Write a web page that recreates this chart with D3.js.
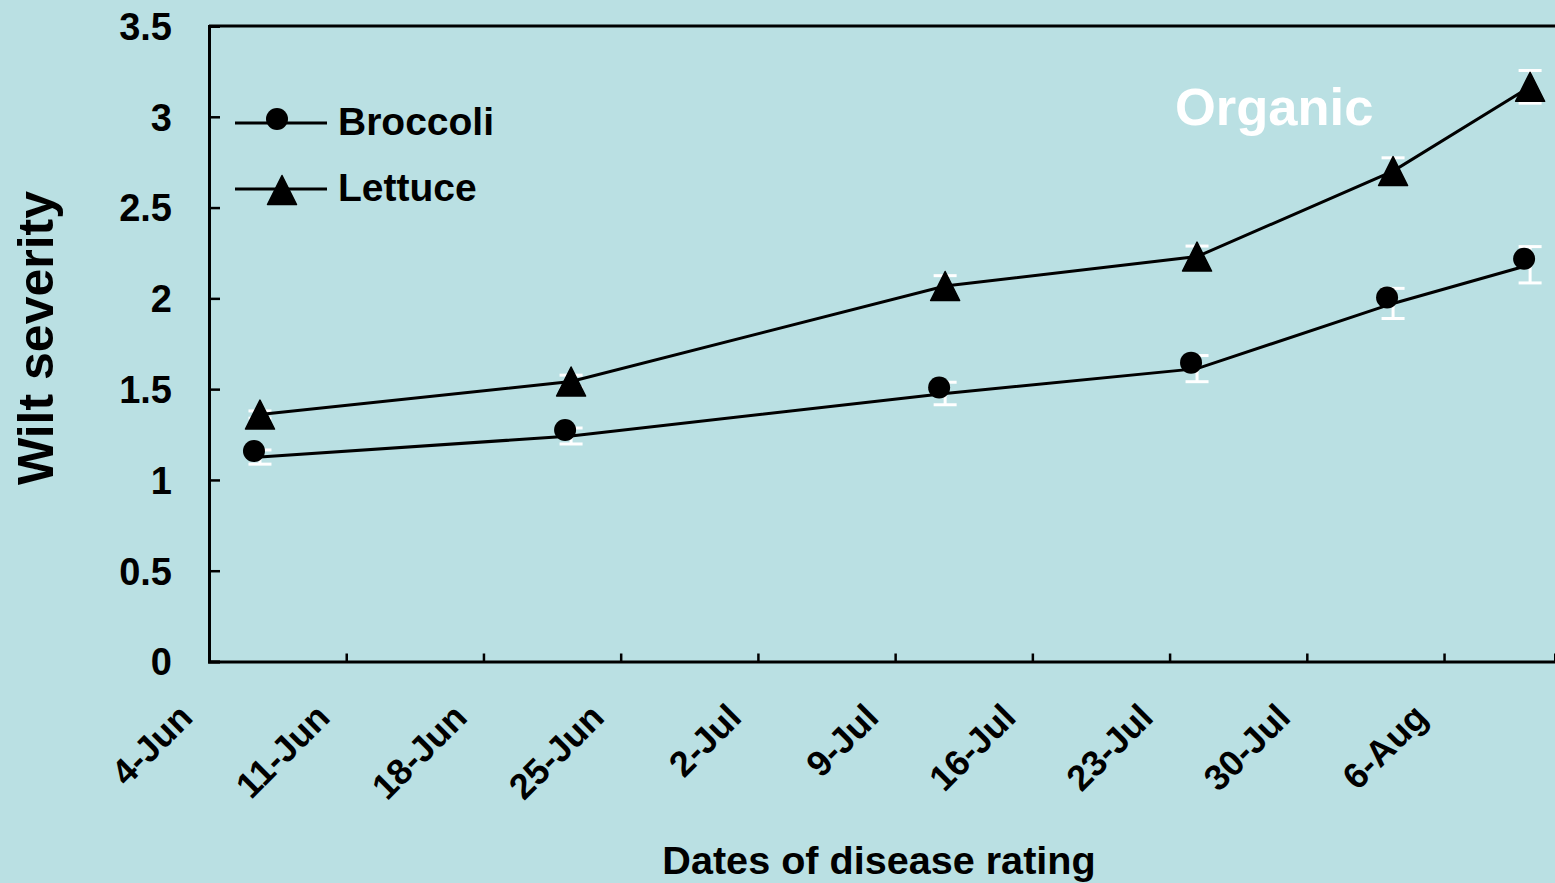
<!DOCTYPE html>
<html><head><meta charset="utf-8">
<script src="https://cdn.jsdelivr.net/npm/d3@7"></script>
<style>
html,body{margin:0;padding:0;background:#bae0e3;}
svg{display:block;font-family:"Liberation Sans",Arial,sans-serif;font-weight:bold;}
</style></head>
<body>
<svg id="chart" width="1555" height="883"></svg>
<script>
// Days after 4-Jun for each rating date
const ratingDays = [2.6, 18.47, 37.55, 50.4, 60.4, 67.39];
const broccoli = [1.126, 1.242, 1.476, 1.613, 1.972, 2.185];
const broccoliErr = [0.039, 0.044, 0.062, 0.072, 0.083, 0.10];
const lettuce = [1.36, 1.542, 2.068, 2.23, 2.701, 3.165];
const lettuceErr = [0.02, 0.035, 0.057, 0.058, 0.073, 0.09];
const xTickDays = [0, 7, 14, 21, 28, 35, 42, 49, 56, 63];
const xTickLabels = ["4-Jun","11-Jun","18-Jun","25-Jun","2-Jul","9-Jul","16-Jul","23-Jul","30-Jul","6-Aug"];
const yTicks = [0, 0.5, 1, 1.5, 2, 2.5, 3, 3.5];

const svg = d3.select("#chart");
const pLeft = 209, pRight = 1555, pTop = 26, pBottom = 661.5;
const x = d3.scaleLinear().domain([0, 68.66]).range([pLeft, pRight]);
const y = d3.scaleLinear().domain([0, 3.5]).range([pBottom, pTop]);

svg.append("rect").attr("width",1555).attr("height",883).attr("fill","#bae0e3");

// Frame: top line
svg.append("line").attr("x1",pLeft).attr("x2",pRight).attr("y1",y(3.5)).attr("y2",y(3.5))
  .attr("stroke","#000").attr("stroke-width",3);

// Y axis
const yAxis = svg.append("g").attr("transform",`translate(${pLeft},0)`)
  .call(d3.axisLeft(y).tickValues(yTicks).tickSize(-11).tickPadding(0).tickFormat(d3.format("")));
yAxis.select(".domain").attr("stroke","#000").attr("stroke-width",3);
yAxis.selectAll(".tick line").attr("stroke","#000").attr("stroke-width",2.5);
yAxis.selectAll(".tick text").attr("x",-37).attr("dy","0.35em")
  .attr("font-size",38).attr("font-weight","bold").attr("fill","#000")
  .attr("font-family","Liberation Sans, Arial, sans-serif");

// X axis
const xAxis = svg.append("g").attr("transform",`translate(0,${pBottom})`)
  .call(d3.axisBottom(x).tickValues(xTickDays).tickSize(-8).tickFormat((d,i)=>xTickLabels[i]));
xAxis.select(".domain").attr("stroke","#000").attr("stroke-width",3);
xAxis.selectAll(".tick line").attr("stroke","#000").attr("stroke-width",2.5);
xAxis.selectAll(".tick text")
  .attr("font-size",36).attr("font-weight","bold").attr("fill","#000")
  .attr("font-family","Liberation Sans, Arial, sans-serif")
  .attr("text-anchor","end").attr("y",0).attr("dy",0)
  .attr("transform","translate(-15,58) rotate(-45)");

// Error bars
function errorBars(vals, errs){
  const g = svg.append("g").attr("stroke","#fff").attr("stroke-width",3);
  vals.forEach((v,i)=>{
    const cx = x(ratingDays[i]);
    g.append("line").attr("x1",cx).attr("x2",cx).attr("y1",y(v+errs[i])).attr("y2",y(v-errs[i]));
    [v+errs[i], v-errs[i]].forEach(e=>{
      g.append("line").attr("x1",cx-11.5).attr("x2",cx+11.5).attr("y1",y(e)).attr("y2",y(e));
    });
  });
}
errorBars(broccoli, broccoliErr);
errorBars(lettuce, lettuceErr);

// Lines
const line = d3.line().x((d,i)=>x(ratingDays[i])).y(d=>y(d));
[broccoli, lettuce].forEach(s=>{
  svg.append("path").attr("d",line(s)).attr("fill","none").attr("stroke","#000").attr("stroke-width",3);
});

// Markers
const tri = "M0,-14.5L14.5,14.5L-14.5,14.5Z";
svg.append("g").selectAll("circle").data(broccoli).join("circle")
  .attr("cx",(d,i)=>x(ratingDays[i])-6).attr("cy",d=>y(d)-6).attr("r",11).attr("fill","#000");
svg.append("g").selectAll("path").data(lettuce).join("path")
  .attr("d",tri).attr("transform",(d,i)=>`translate(${x(ratingDays[i])},${y(d)})`)
  .attr("fill","#000").attr("stroke","#000").attr("stroke-width",1.5).attr("stroke-linejoin","round");

// Legend
const lg = svg.append("g");
lg.append("line").attr("x1",235).attr("x2",327).attr("y1",123).attr("y2",123).attr("stroke","#000").attr("stroke-width",3);
lg.append("circle").attr("cx",277).attr("cy",119).attr("r",11).attr("fill","#000");
lg.append("text").attr("x",338).attr("y",135).attr("font-size",39).text("Broccoli");
lg.append("line").attr("x1",235).attr("x2",327).attr("y1",189).attr("y2",189).attr("stroke","#000").attr("stroke-width",3);
lg.append("path").attr("d",tri).attr("transform","translate(282,190)").attr("fill","#000")
  .attr("stroke","#000").attr("stroke-width",1.5).attr("stroke-linejoin","round");
lg.append("text").attr("x",338).attr("y",201).attr("font-size",39).text("Lettuce");

// Annotation
svg.append("text").attr("x",1175).attr("y",125).attr("font-size",52.5).attr("fill","#fff").text("Organic");

// Axis titles
svg.append("text").attr("x",879).attr("y",874).attr("text-anchor","middle").attr("font-size",39.6)
  .text("Dates of disease rating");
svg.append("text").attr("transform","translate(53,338) rotate(-90)").attr("text-anchor","middle")
  .attr("font-size",50).text("Wilt severity");
</script>
</body></html>
